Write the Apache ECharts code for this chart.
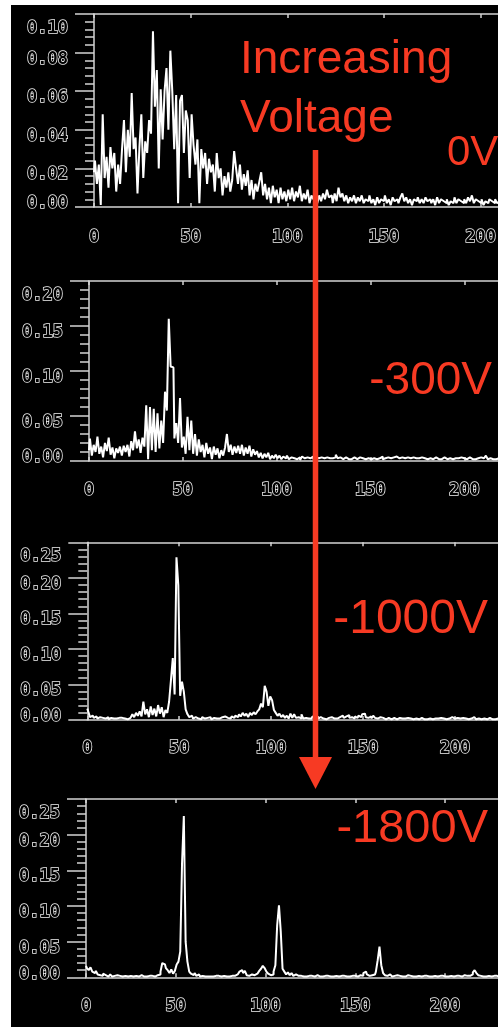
<!DOCTYPE html>
<html>
<head>
<meta charset="utf-8">
<script src="https://cdn.jsdelivr.net/npm/echarts@6/dist/echarts.min.js"></script>
<style>
  html, body { margin: 0; padding: 0; background: #fff; overflow: hidden; }
  #chart { width: 498px; height: 1027px; }
</style>
</head>
<body>
<div id="chart"></div>
<script>
// Pulse-height spectra, one value per channel, for four bias voltages.
const spectrum0V = [
  0.018, 0.024, 0.012, 0.022, 0.001, 0.048, 0.015, 0.026, 0.010, 0.031,
  0.020, 0.028, 0.008, 0.022, 0.012, 0.030, 0.045, 0.018, 0.040, 0.026,
  0.059, 0.030, 0.036, 0.007, 0.031, 0.048, 0.015, 0.034, 0.028, 0.045,
  0.038, 0.091, 0.052, 0.071, 0.020, 0.061, 0.035, 0.060, 0.072, 0.040,
  0.081, 0.060, 0.030, 0.058, 0.002, 0.055, 0.058, 0.028, 0.050, 0.045,
  0.015, 0.048, 0.032, 0.022, 0.035, 0.002, 0.030, 0.020, 0.028, 0.012,
  0.025, 0.018, 0.022, 0.008, 0.028, 0.015, 0.020, 0.006, 0.016, 0.010,
  0.018, 0.008, 0.014, 0.029, 0.020, 0.012, 0.022, 0.009, 0.017, 0.011,
  0.019, 0.006, 0.014, 0.004, 0.012, 0.008, 0.013, 0.018, 0.006, 0.012,
  0.004, 0.010, 0.002, 0.011, 0.005, 0.009, 0.002, 0.010, 0.004, 0.008,
  0.003, 0.009, 0.004, 0.010, 0.003, 0.008, 0.005, 0.011, 0.003, 0.007,
  0.004, 0.009, 0.002, 0.006, 0.004, 0.008, 0.002, 0.006, 0.003, 0.007,
  0.004, 0.009, 0.005, 0.006, 0.002, 0.007, 0.003, 0.010, 0.005, 0.007,
  0.003, 0.006, 0.002, 0.005, 0.003, 0.006, 0.002, 0.005, 0.003, 0.006,
  0.002, 0.004, 0.003, 0.006, 0.002, 0.004, 0.001, 0.005, 0.002, 0.004,
  0.003, 0.006, 0.002, 0.004, 0.001, 0.005, 0.003, 0.004, 0.002, 0.005,
  0.007, 0.003, 0.005, 0.002, 0.004, 0.001, 0.004, 0.003, 0.005, 0.002,
  0.004, 0.002, 0.005, 0.003, 0.004, 0.002, 0.004, 0.001, 0.005, 0.002,
  0.004, 0.003, 0.002, 0.004, 0.001, 0.003, 0.002, 0.005, 0.002, 0.004,
  0.003, 0.002, 0.004, 0.002, 0.005, 0.003, 0.006, 0.002, 0.004, 0.003,
  0.002, 0.004, 0.001, 0.003, 0.002, 0.004, 0.003, 0.002, 0.004, 0.002,
  0.003, 0.002, 0.003
];

const spectrum300V = [
  0.012, 0.025, 0.006, 0.018, 0.010, 0.027, 0.008, 0.016, 0.004, 0.020,
  0.011, 0.026, 0.007, 0.015, 0.003, 0.014, 0.009, 0.016, 0.006, 0.017,
  0.010, 0.018, 0.005, 0.022, 0.012, 0.033, 0.014, 0.024, 0.009, 0.026,
  0.016, 0.062, 0.002, 0.060, 0.012, 0.058, 0.010, 0.053, 0.014, 0.045,
  0.020, 0.077, 0.056, 0.158, 0.105, 0.104, 0.025, 0.042, 0.020, 0.070,
  0.015, 0.027, 0.008, 0.049, 0.012, 0.045, 0.008, 0.030, 0.006, 0.024,
  0.010, 0.018, 0.004, 0.020, 0.008, 0.015, 0.002, 0.016, 0.007, 0.014,
  0.003, 0.012, 0.006, 0.015, 0.030, 0.010, 0.018, 0.007, 0.016, 0.009,
  0.017, 0.008, 0.018, 0.006, 0.015, 0.008, 0.017, 0.005, 0.013, 0.007,
  0.011, 0.004, 0.009, 0.003, 0.008, 0.004, 0.009, 0.002, 0.006, 0.003,
  0.007, 0.003, 0.006, 0.002, 0.005, 0.003, 0.006, 0.002, 0.004, 0.003,
  0.005, 0.002, 0.004, 0.001, 0.005, 0.003, 0.004, 0.002, 0.003, 0.005,
  0.002, 0.004, 0.003, 0.002, 0.004, 0.003, 0.002, 0.004, 0.003, 0.005,
  0.003, 0.004, 0.007, 0.003, 0.004, 0.002, 0.003, 0.004, 0.002, 0.003,
  0.002, 0.004, 0.003, 0.002, 0.004, 0.002, 0.003, 0.002, 0.004, 0.003,
  0.002, 0.004, 0.003, 0.002, 0.004, 0.003, 0.005, 0.002, 0.003, 0.004,
  0.002, 0.003, 0.004, 0.002, 0.005, 0.003, 0.002, 0.004, 0.003, 0.002,
  0.004, 0.003, 0.002, 0.004, 0.003, 0.002, 0.003, 0.004, 0.002, 0.003,
  0.002, 0.004, 0.003, 0.002, 0.003, 0.004, 0.002, 0.003, 0.002, 0.004,
  0.003, 0.002, 0.003, 0.004, 0.002, 0.003, 0.002, 0.003, 0.004, 0.002,
  0.003, 0.002, 0.003, 0.004, 0.002, 0.003, 0.002, 0.003, 0.002, 0.004,
  0.003, 0.002, 0.006, 0.002, 0.003, 0.002, 0.003, 0.002, 0.003, 0.002,
  0.003
];

const spectrum1000V = [
  0.016, 0.012, 0.004, 0.006, 0.003, 0.005, 0.002, 0.004, 0.003, 0.005,
  0.002, 0.004, 0.001, 0.003, 0.002, 0.004, 0.002, 0.003, 0.001, 0.003,
  0.002, 0.003, 0.001, 0.003, 0.002, 0.008, 0.004, 0.010, 0.006, 0.012,
  0.005, 0.026, 0.008, 0.015, 0.004, 0.019, 0.007, 0.016, 0.005, 0.021,
  0.009, 0.018, 0.004, 0.014, 0.010, 0.026, 0.056, 0.087, 0.036, 0.229,
  0.190, 0.034, 0.054, 0.040, 0.015, 0.008, 0.004, 0.006, 0.002, 0.004,
  0.002, 0.003, 0.001, 0.004, 0.002, 0.003, 0.002, 0.004, 0.001, 0.003,
  0.002, 0.003, 0.002, 0.004, 0.002, 0.005, 0.003, 0.004, 0.002, 0.005,
  0.003, 0.006, 0.004, 0.008, 0.005, 0.010, 0.006, 0.009, 0.004, 0.010,
  0.007, 0.011, 0.008, 0.012, 0.015, 0.023, 0.018, 0.048, 0.040, 0.020,
  0.033, 0.028, 0.014, 0.010, 0.006, 0.009, 0.004, 0.007, 0.003, 0.006,
  0.002, 0.009, 0.003, 0.008, 0.003, 0.004, 0.002, 0.008, 0.002, 0.003,
  0.002, 0.004, 0.002, 0.005, 0.003, 0.005, 0.002, 0.004, 0.002, 0.003,
  0.001, 0.003, 0.002, 0.004, 0.002, 0.003, 0.002, 0.004, 0.003, 0.006,
  0.003, 0.005, 0.007, 0.003, 0.004, 0.002, 0.005, 0.003, 0.006, 0.004,
  0.008, 0.009, 0.004, 0.003, 0.005, 0.002, 0.006, 0.003, 0.002, 0.004,
  0.002, 0.003, 0.001, 0.002, 0.003, 0.001, 0.002, 0.003, 0.001, 0.002,
  0.003, 0.002, 0.001, 0.002, 0.003, 0.001, 0.002, 0.001, 0.003, 0.002,
  0.001, 0.002, 0.003, 0.001, 0.002, 0.001, 0.002, 0.003, 0.001, 0.002,
  0.001, 0.002, 0.003, 0.001, 0.002, 0.001, 0.003, 0.002, 0.004, 0.005,
  0.002, 0.003, 0.001, 0.002, 0.003, 0.005, 0.002, 0.001, 0.003, 0.002,
  0.004, 0.002, 0.001, 0.002, 0.001, 0.003, 0.002, 0.001, 0.002, 0.003,
  0.001, 0.002, 0.001, 0.002, 0.003, 0.002
];

const spectrum1800V = [
  0.016, 0.013, 0.010, 0.014, 0.008, 0.006, 0.009, 0.004, 0.003, 0.002,
  0.005, 0.003, 0.001, 0.002, 0.004, 0.001, 0.002, 0.003, 0.001, 0.002,
  0.001, 0.003, 0.002, 0.001, 0.003, 0.002, 0.001, 0.003, 0.002, 0.001,
  0.002, 0.003, 0.001, 0.002, 0.001, 0.002, 0.003, 0.002, 0.001, 0.002,
  0.003, 0.004, 0.008, 0.020, 0.018, 0.013, 0.010, 0.006, 0.011, 0.005,
  0.009, 0.018, 0.022, 0.036, 0.160, 0.226, 0.050, 0.022, 0.008, 0.005,
  0.003, 0.006, 0.002, 0.004, 0.001, 0.002, 0.001, 0.002, 0.001, 0.001,
  0.002, 0.001, 0.002, 0.001, 0.002, 0.001, 0.001, 0.002, 0.001, 0.002,
  0.001, 0.002, 0.001, 0.002, 0.004, 0.002, 0.008, 0.010, 0.006, 0.009,
  0.003, 0.002, 0.004, 0.002, 0.003, 0.005, 0.003, 0.009, 0.012, 0.016,
  0.013, 0.008, 0.005, 0.003, 0.004, 0.008, 0.017, 0.073, 0.101, 0.064,
  0.012, 0.008, 0.004, 0.007, 0.003, 0.006, 0.002, 0.004, 0.002, 0.001,
  0.002, 0.001, 0.003, 0.001, 0.002, 0.001, 0.002, 0.001, 0.002, 0.003,
  0.001, 0.002, 0.001, 0.002, 0.001, 0.002, 0.001, 0.002, 0.001, 0.002,
  0.003, 0.001, 0.002, 0.001, 0.002, 0.001, 0.002, 0.001, 0.002, 0.001,
  0.002, 0.001, 0.002, 0.003, 0.002, 0.006, 0.008, 0.004, 0.002, 0.003,
  0.002, 0.004, 0.008, 0.024, 0.043, 0.017, 0.006, 0.003, 0.002, 0.004,
  0.002, 0.001, 0.002, 0.003, 0.001, 0.002, 0.001, 0.002, 0.001, 0.003,
  0.001, 0.002, 0.001, 0.002, 0.001, 0.002, 0.003, 0.001, 0.002, 0.001,
  0.002, 0.001, 0.002, 0.001, 0.002, 0.003, 0.001, 0.002, 0.001, 0.002,
  0.001, 0.002, 0.001, 0.002, 0.003, 0.001, 0.002, 0.001, 0.002, 0.001,
  0.002, 0.003, 0.002, 0.001, 0.002, 0.004, 0.007, 0.010, 0.006, 0.003,
  0.002, 0.001, 0.002, 0.001, 0.002, 0.003, 0.001, 0.002, 0.001, 0.002,
  0.001
];

const voltageLabels = ['0V', '-300V', '-1000V', '-1800V'];
const yMaxima = [0.10, 0.20, 0.25, 0.25];
const yIntervals = [0.02, 0.05, 0.05, 0.05];
const xMax = 256;
const xInterval = 50;
const titleLines = ['Increasing', 'Voltage'];

const spectra = [spectrum0V, spectrum300V, spectrum1000V, spectrum1800V];

// Plot boxes (pixels) and horizontal scale of each panel; the boxes run off the right edge.
const boxes = [
  { left: 94,   top: 14,    height: 193,   pxPerUnit: 1.933,  labelMargin: 22 },
  { left: 89,   top: 281,   height: 180,   pxPerUnit: 1.8765, labelMargin: 21 },
  { left: 87.3, top: 542.3, height: 177.7, pxPerUnit: 1.8385, labelMargin: 20 },
  { left: 86,   top: 799,   height: 178.3, pxPerUnit: 1.795,  labelMargin: 21 }
];

const AXIS = '#d4d4d4';
const RED = '#f73a23';
const tickFont = {
  color: '#000',
  textBorderColor: '#f0f0f0',
  textBorderWidth: 1.5,
  fontFamily: '"DejaVu Sans Mono", monospace',
  fontWeight: 'bold',
  fontSize: 17
};

// Vertical placement of the y tick labels: top label hangs below its tick,
// bottom label sits above it, the rest sit a little below their ticks.
const yLabelRich = {
  top: Object.assign({ lineHeight: 29 }, tickFont),
  mid: Object.assign({ lineHeight: 13 }, tickFont),
  bot: Object.assign({ lineHeight: 6 }, tickFont)
};

const grids = [], xAxes = [], yAxes = [], series = [];
boxes.forEach((b, i) => {
  const yMax = yMaxima[i];
  grids.push({
    left: b.left, top: b.top, height: b.height, width: xMax * b.pxPerUnit,
    containLabel: false, outerBoundsMode: 'none'
  });
  xAxes.push({
    type: 'value', gridIndex: i, min: 0, max: xMax, interval: xInterval, position: 'bottom',
    axisLine: { lineStyle: { color: AXIS, width: 1.5 } },
    axisTick: { inside: true, length: 4, lineStyle: { color: AXIS, width: 1.5 } },
    axisLabel: Object.assign({ margin: b.labelMargin, showMaxLabel: false }, tickFont),
    splitLine: { show: false }
  });
  xAxes.push({
    type: 'value', gridIndex: i, min: 0, max: xMax, interval: xInterval, position: 'top',
    axisLine: { lineStyle: { color: AXIS, width: 1.5 } },
    axisTick: { inside: true, length: 4, lineStyle: { color: AXIS, width: 1.5 } },
    axisLabel: { show: false },
    splitLine: { show: false }
  });
  yAxes.push({
    type: 'value', gridIndex: i, min: 0, max: yMax, interval: yIntervals[i], position: 'left',
    axisLine: { show: true, lineStyle: { color: AXIS, width: 1.5 } },
    axisTick: { show: true, inside: false, length: 19, lineStyle: { color: AXIS, width: 1.5 } },
    minorTick: { show: true, splitNumber: 5, length: 9, lineStyle: { color: AXIS, width: 1.5 } },
    axisLabel: Object.assign({
      margin: 26,
      verticalAlign: 'top',
      verticalAlignMaxLabel: 'top',
      verticalAlignMinLabel: 'bottom',
      formatter: v => {
        const key = v === 0 ? 'bot' : (Math.abs(v - yMax) < 1e-9 ? 'top' : 'mid');
        return '{' + key + '|' + v.toFixed(2) + '}';
      },
      rich: yLabelRich
    }, tickFont),
    splitLine: { show: false }
  });
  series.push({
    type: 'line', xAxisIndex: i * 2, yAxisIndex: i,
    step: 'middle', symbol: 'none', animation: false,
    lineStyle: { color: '#ffffff', width: 2 },
    data: spectra[i].map((v, ch) => [ch, v])
  });
});

const redText = (text, x, y, align, size) => ({
  type: 'text', z: 100, silent: true,
  style: {
    text: text, x: x, y: y, fill: RED,
    font: size + 'px "Liberation Sans", Arial, sans-serif',
    align: align, verticalAlign: 'middle'
  }
});

const graphic = [
  { type: 'rect', z: -100, silent: true, shape: { x: 11, y: 5, width: 487, height: 1022 }, style: { fill: '#000' } },
  redText(titleLines[0], 240, 60, 'left', 46),
  redText(titleLines[1], 240, 119, 'left', 46),
  redText(voltageLabels[0], 447, 153, 'left', 42),
  redText(voltageLabels[1], 492, 381, 'right', 46),
  redText(voltageLabels[2], 488, 620, 'right', 48),
  redText(voltageLabels[3], 488, 829, 'right', 47),
  { type: 'line', z: 100, silent: true, shape: { x1: 315.5, y1: 150, x2: 315.5, y2: 760 }, style: { stroke: RED, lineWidth: 5.5 } },
  { type: 'polygon', z: 100, silent: true, shape: { points: [[299, 757], [332, 757], [315.5, 789]] }, style: { fill: RED } }
];

const chart = echarts.init(document.getElementById('chart'), null, { renderer: 'canvas' });
chart.setOption({
  backgroundColor: '#ffffff',
  animation: false,
  grid: grids,
  xAxis: xAxes,
  yAxis: yAxes,
  series: series,
  graphic: graphic
});
</script>
</body>
</html>
